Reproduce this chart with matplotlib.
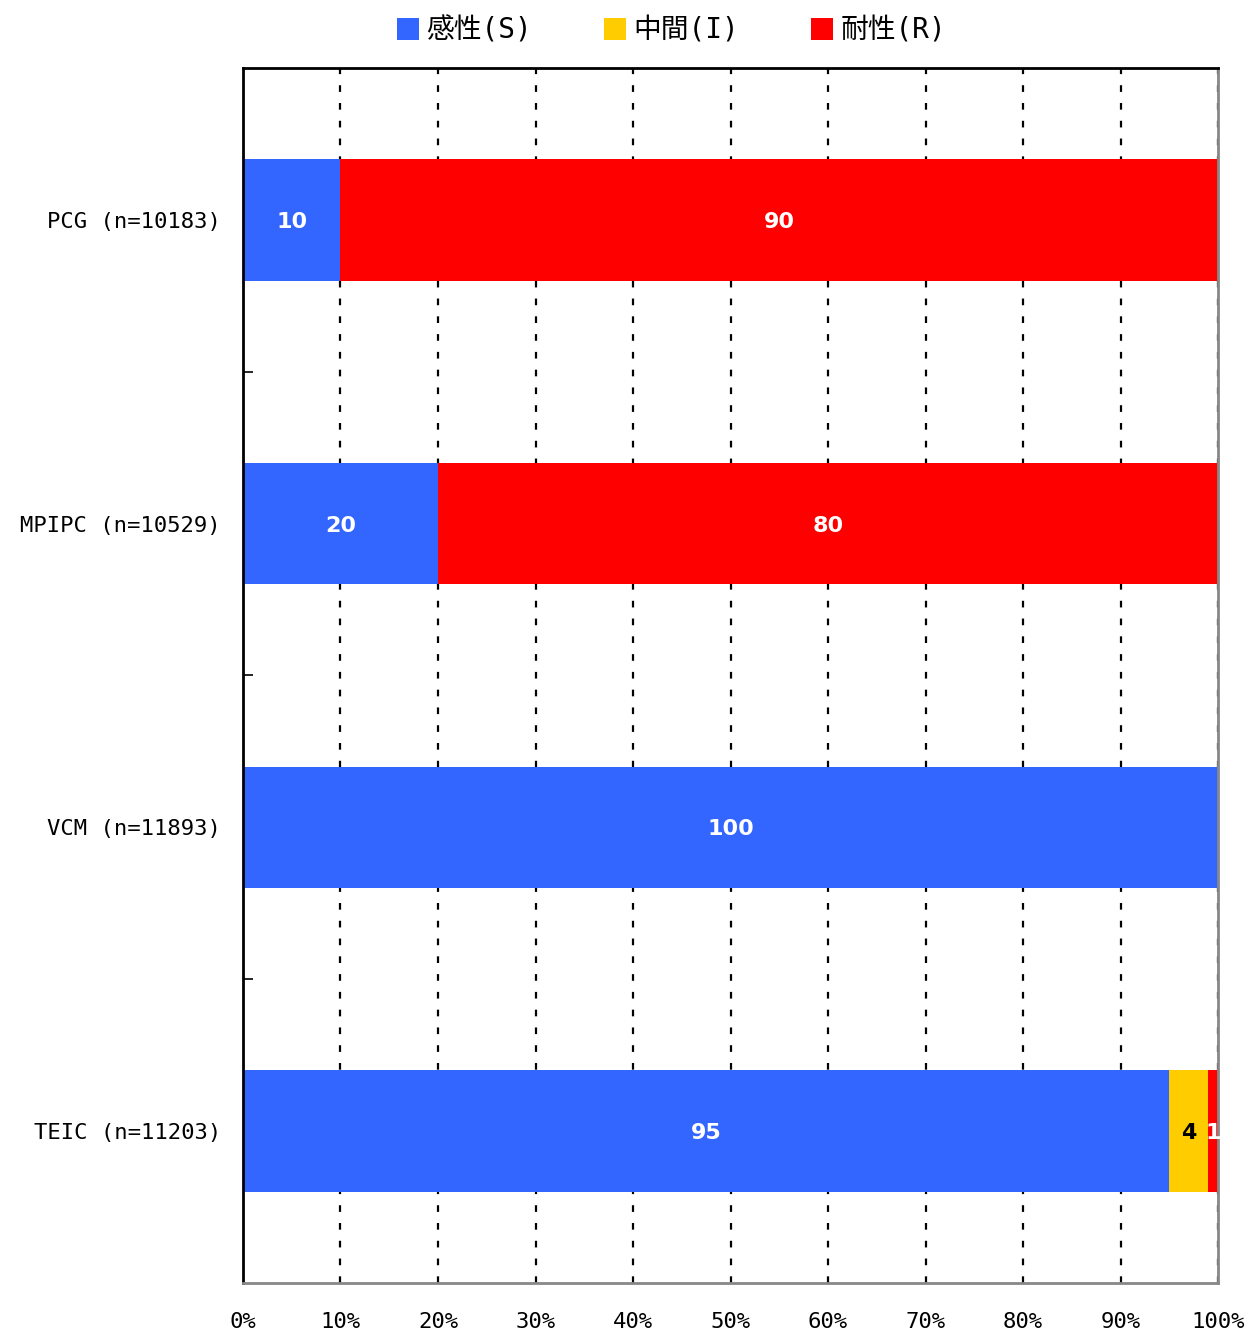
import matplotlib
matplotlib.use("Agg")
import matplotlib.pyplot as plt
import numpy as np

mono = ['DejaVu Sans Mono', 'Noto Sans CJK JP']
plt.rcParams['font.family'] = mono

# 薬剤別の感受性割合 (%)
drugs = ['PCG (n=10183)', 'MPIPC (n=10529)', 'VCM (n=11893)', 'TEIC (n=11203)']
susceptible = [10, 20, 100, 95]
intermediate = [0, 0, 0, 4]
resistant = [90, 80, 0, 1]

series = [('感性(S)', susceptible, '#3366ff', 'white'),
          ('中間(I)', intermediate, '#ffcc00', 'black'),
          ('耐性(R)', resistant, '#ff0000', 'white')]

fig = plt.figure(figsize=(12.48, 13.32), dpi=100)
ax = fig.add_axes([0.1947, 0.0368, 0.976 - 0.1947, 0.949 - 0.0368])

y = np.arange(len(drugs)) + 0.5
left = np.zeros(len(drugs))
for name, vals, col, tcol in series:
    vals = np.array(vals, dtype=float)
    bars = ax.barh(y, vals, left=left, height=0.4, color=col, label=name, zorder=2)
    for b, v in zip(bars, vals):
        if v > 0:
            ax.text(b.get_x() + b.get_width() / 2, b.get_y() + b.get_height() / 2,
                    f'{v:g}', ha='center', va='center_baseline', color=tcol,
                    fontsize=16, fontweight='bold', family='DejaVu Sans', zorder=3)
    left += vals

ax.set_xlim(0, 100)
ax.set_ylim(len(drugs), 0)
ax.set_xticks(np.arange(0, 101, 10))
ax.set_xticklabels([f'{v}%' for v in range(0, 101, 10)], fontsize=16)
ax.set_yticks(y)
ax.set_yticklabels(drugs, fontsize=16)
ax.set_yticks(np.arange(1, len(drugs)), minor=True)
ax.tick_params(axis='y', which='major', length=0, pad=16)
ax.tick_params(axis='y', which='minor', length=7, direction='in', width=1.2)
ax.tick_params(axis='x', length=0, pad=21)

ax.grid(axis='x', color='black', linestyle=(0, (3, 5)), linewidth=1.6, zorder=1)
ax.set_axisbelow(True)

ax.spines['left'].set_linewidth(2)
ax.spines['top'].set_linewidth(2)
ax.spines['bottom'].set_color('#888888')
ax.spines['bottom'].set_linewidth(2)
ax.spines['right'].set_color('#888888')
ax.spines['right'].set_linewidth(2)

fig.legend(loc='center', bbox_to_anchor=(0.538, 0.977), ncol=3, frameon=False,
           prop={'family': mono, 'size': 20},
           handlelength=0.8, handleheight=0.8, handletextpad=0.25,
           columnspacing=2.6)

fig.savefig('out.png', dpi=100)
